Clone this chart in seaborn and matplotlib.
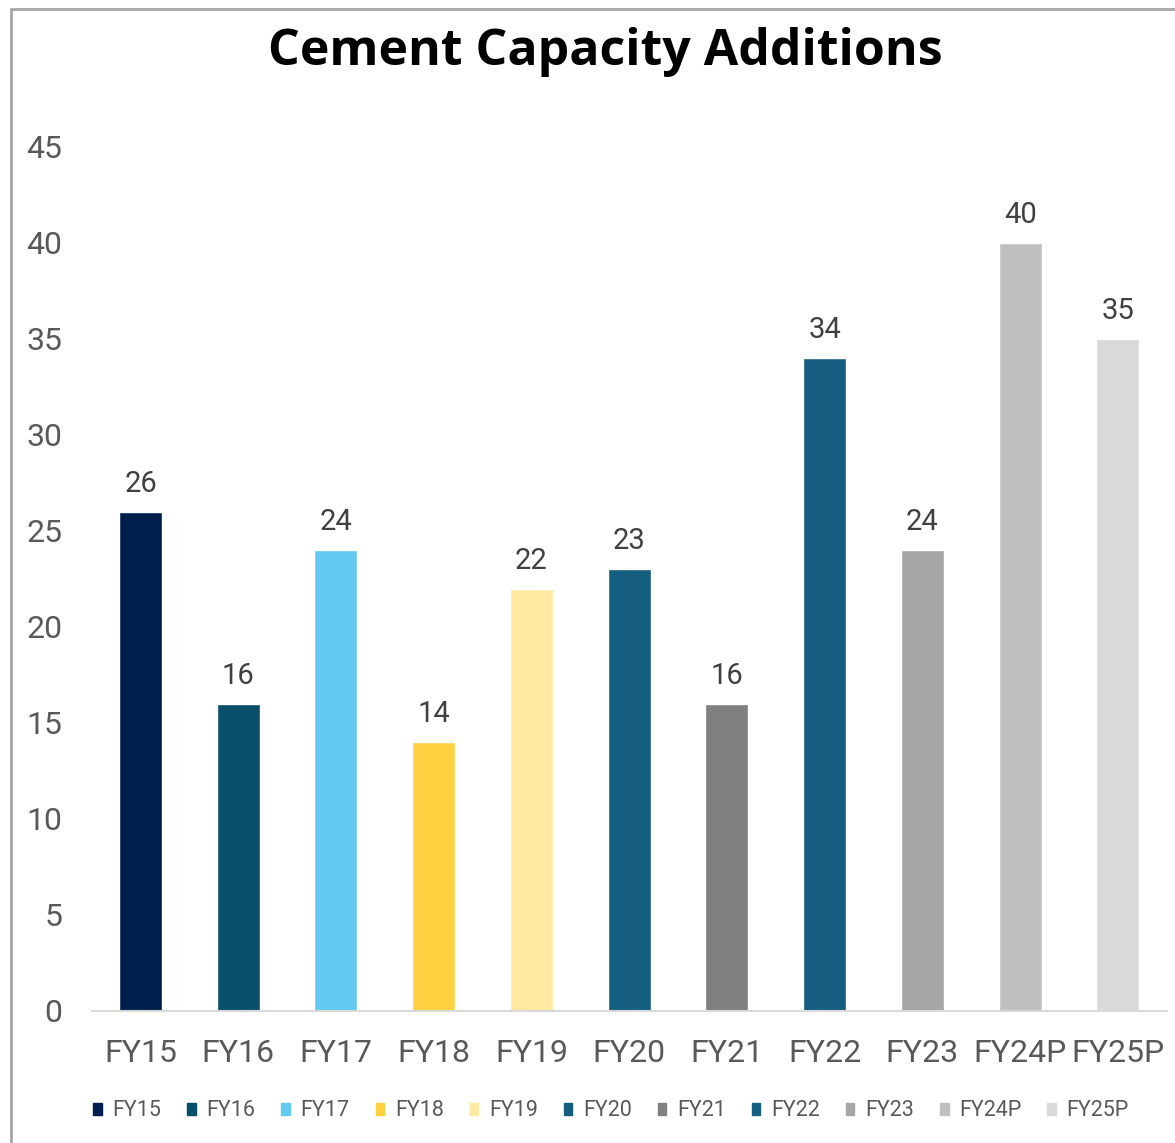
import matplotlib
matplotlib.use("Agg")
import matplotlib.pyplot as plt
import matplotlib.patches as mpatches
import seaborn as sns
import pandas as pd

# Data
years = ["FY15", "FY16", "FY17", "FY18", "FY19", "FY20", "FY21", "FY22", "FY23", "FY24P", "FY25P"]
capacity = [26, 16, 24, 14, 22, 23, 16, 34, 24, 40, 35]
bar_colors = ["#001E4C", "#0A4F6A", "#63CBF2", "#FFD140", "#FFE8A0", "#165E80",
              "#808080", "#165E80", "#A6A6A6", "#BFBFBF", "#D9D9D9"]

df = pd.DataFrame({"year": years, "capacity": capacity})

sns.set_style("white")
plt.rcParams['font.family'] = ['Roboto', 'DejaVu Sans']

fig = plt.figure(figsize=(11.75, 11.43), dpi=100)
ax = fig.add_axes([0.078, 0.1155, 0.915, 0.7559])

sns.barplot(data=df, x="year", y="capacity", hue="year", palette=bar_colors,
            order=years, hue_order=years, width=0.44, dodge=False, legend=False,
            saturation=1, ax=ax)

# value labels
for i, v in enumerate(capacity):
    ax.annotate(str(v), (i, v), xytext=(0, 10), textcoords="offset points",
                ha="center", va="bottom", fontsize=21, color="#404040")

ax.set_ylim(0, 45)
ax.set_xlim(-0.5, len(years) - 0.5)
ax.set_yticks(range(0, 46, 5))
ax.set_xlabel("")
ax.set_ylabel("")

for s in ["top", "right", "left"]:
    ax.spines[s].set_visible(False)
ax.spines["bottom"].set_color("#D9D9D9")
ax.spines["bottom"].set_linewidth(1.5)

ax.tick_params(axis="y", length=0, labelsize=23, labelcolor="#595959", pad=21)
ax.set_xticks(range(len(years)))
ax.set_xticklabels(years)
ax.tick_params(axis="x", length=0, labelsize=23, labelcolor="#595959", pad=20)
# boundary ticks
ax.set_xticks([i - 0.5 for i in range(len(years) + 1)], minor=True)
ax.tick_params(axis="x", which="minor", length=7, width=1.5, color="#D9D9D9")

fig.text(0.515, 0.9545, "Cement Capacity Additions", ha="center", va="center",
         fontsize=36, fontweight="bold", color="black", family=["Open Sans", "DejaVu Sans"])

handles = [mpatches.Patch(color=c, label=y) for y, c in zip(years, bar_colors)]
fig.legend(handles=handles, loc="center", bbox_to_anchor=(0.52, 1 - 1111 / 1143),
           ncol=len(years), frameon=False, fontsize=15.5, labelcolor="#595959",
           handlelength=0.4, handleheight=0.5, handletextpad=0.5, columnspacing=1.2)

# outer border (cut off at right/bottom like the reference)
border = mpatches.Rectangle((11 / 1175, -0.05), 1.1, 1 - 9 / 1143 + 0.05,
                            transform=fig.transFigure, fill=False,
                            edgecolor="#A6A6A6", linewidth=2, clip_on=False)
fig.patches.append(border)

fig.savefig("out.png", dpi=100)
